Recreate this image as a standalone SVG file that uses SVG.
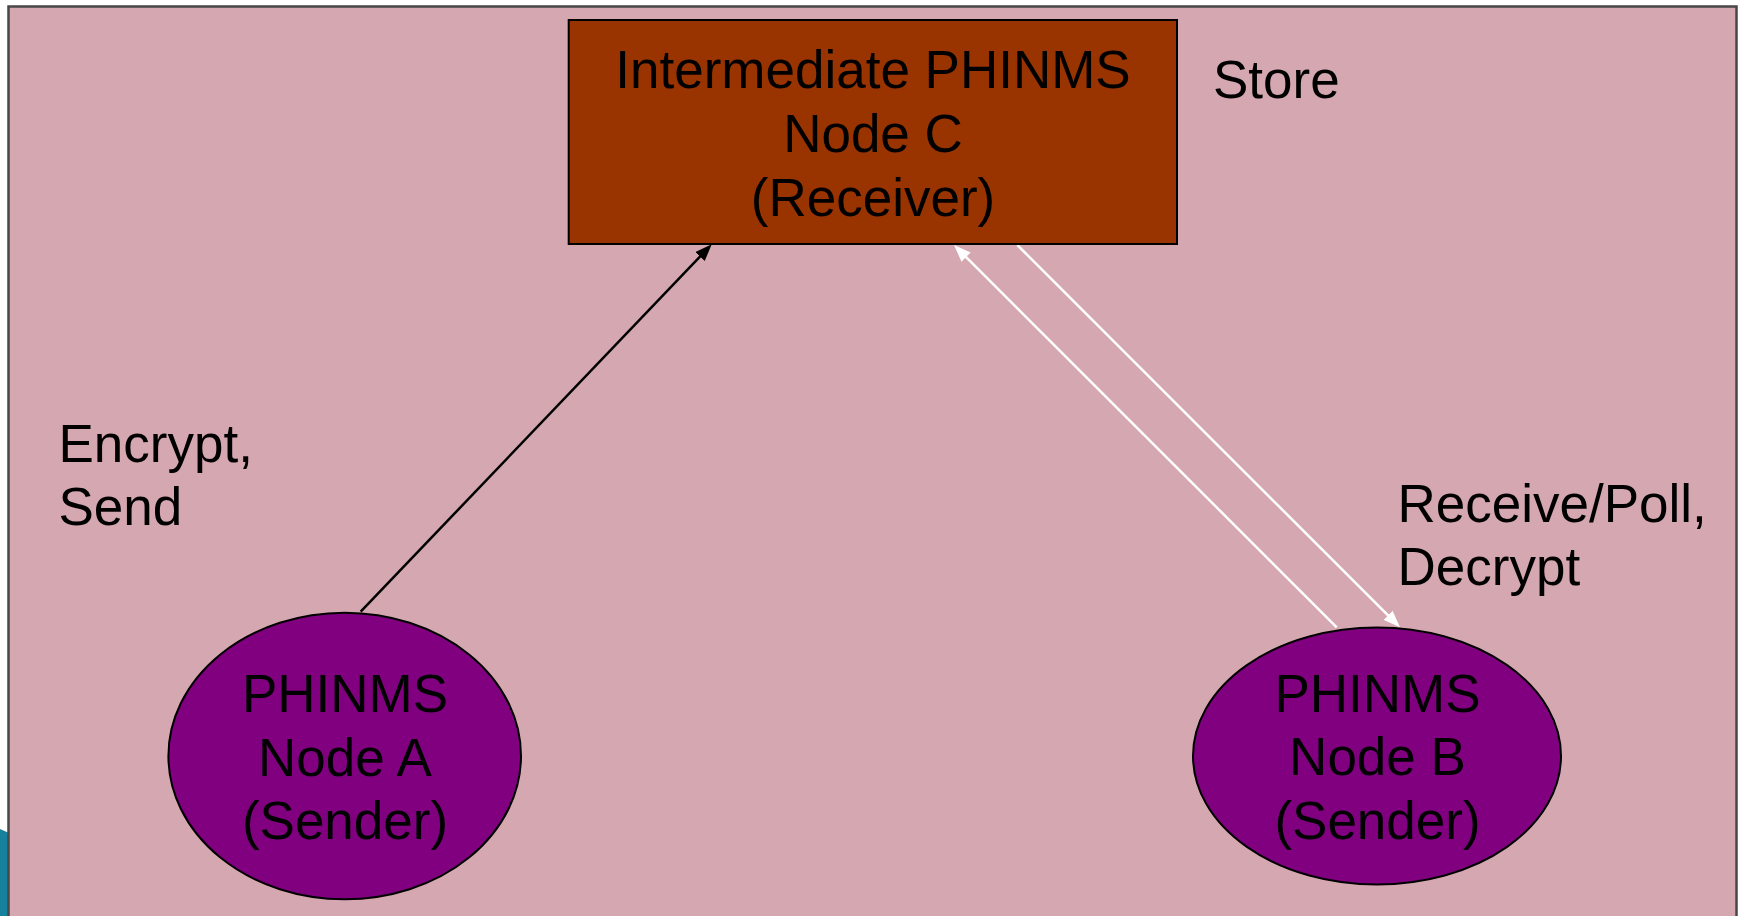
<svg xmlns="http://www.w3.org/2000/svg" width="1741" height="916" viewBox="0 0 1741 916">
  <style>
    .lbl { font-family: "Liberation Sans", Arial, sans-serif; font-size: 53px; fill: #000; }
    .ntxt { font-family: "Liberation Sans", Arial, sans-serif; font-size: 53px; fill: #000; text-anchor: middle; }
    .ell { fill: #800080; stroke: #000; stroke-width: 2; }
    .box { fill: #993300; stroke: #000; stroke-width: 2; }
    .blk { stroke: #000; stroke-width: 2.5; fill: none; }
    .wht { stroke: #fff; stroke-width: 2.5; fill: none; }
  </style>
  <defs>
    <marker id="arrBlack" markerUnits="userSpaceOnUse" markerWidth="18" markerHeight="14" refX="9" refY="6.5" orient="auto">
      <path d="M0,0 L17,6.5 L0,13 z" fill="#000"/>
    </marker>
    <marker id="arrWhite" markerUnits="userSpaceOnUse" markerWidth="18" markerHeight="14" refX="9" refY="6.5" orient="auto">
      <path d="M0,0 L17,6.5 L0,13 z" fill="#fff"/>
    </marker>
  </defs>
  <rect x="0" y="0" width="1741" height="916" fill="#fff"/>
  <polygon points="0,829 9,833 9,916 0,916" fill="#15819c"/>
  <rect id="background" x="8.5" y="6.5" width="1728" height="930" fill="#d5a7b0" stroke="#474747" stroke-width="2.5"/>

  <g id="connectors">
    <line class="blk" x1="360.7" y1="611.7" x2="706.2" y2="250.1" marker-end="url(#arrBlack)"/>
    <line class="wht" x1="1336.7" y1="627.3" x2="959.7" y2="250.7" marker-end="url(#arrWhite)"/>
    <line class="wht" x1="1017.3" y1="245" x2="1394.3" y2="621.6" marker-end="url(#arrWhite)"/>
  </g>

  <g id="nodeC">
    <rect class="box" x="568.7" y="20" width="608.3" height="224"/>
    <text class="ntxt" x="873" y="88">Intermediate PHINMS</text>
    <text class="ntxt" x="873" y="152">Node C</text>
    <text class="ntxt" x="873" y="216">(Receiver)</text>
  </g>

  <g id="nodeA">
    <ellipse class="ell" cx="344.7" cy="756" rx="176.3" ry="143.3"/>
    <text class="ntxt" x="345" y="712">PHINMS</text>
    <text class="ntxt" x="345" y="775.5">Node A</text>
    <text class="ntxt" x="345" y="839">(Sender)</text>
  </g>

  <g id="nodeB">
    <ellipse class="ell" cx="1377" cy="756" rx="184" ry="128.5"/>
    <text class="ntxt" x="1377.5" y="712">PHINMS</text>
    <text class="ntxt" x="1377.5" y="775">Node B</text>
    <text class="ntxt" x="1377.5" y="838.5">(Sender)</text>
  </g>

  <g id="labels">
    <text class="lbl" x="1213" y="98">Store</text>
    <text class="lbl" x="58.5" y="462">Encrypt,</text>
    <text class="lbl" x="58.5" y="525">Send</text>
    <text class="lbl" x="1397.5" y="521.7">Receive/Poll,</text>
    <text class="lbl" x="1397.5" y="585">Decrypt</text>
  </g>
</svg>
